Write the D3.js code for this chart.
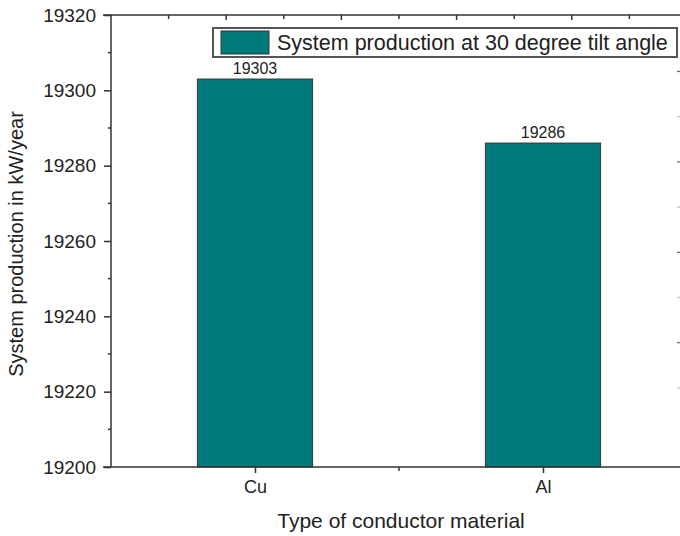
<!DOCTYPE html>
<html>
<head>
<meta charset="utf-8">
<script src="https://cdn.jsdelivr.net/npm/d3@7"></script>
<style>
  body { margin: 0; background: #fff; }
  text { font-family: "Liberation Sans", Arial, sans-serif; fill: #222; }
</style>
</head>
<body>
<svg id="chart" width="680" height="536"></svg>
<script>
const materials = ["Cu", "Al"];
const production = [19303, 19286];
const yTicks = [19200, 19220, 19240, 19260, 19280, 19300, 19320];
const legendLabel = "System production at 30 degree tilt angle";

const svg = d3.select("#chart");
const margin = {left: 111, top: 15, bottom: 467, right: 687};

const x = d3.scalePoint().domain(materials).range([margin.left, margin.right]).padding(0.5);
const barWidth = x.step() * 0.4;
const y = d3.scaleLinear().domain([19200, 19320]).range([margin.bottom, margin.top]);

const axisColor = "#333";

// bars
svg.append("g")
    .selectAll("rect")
    .data(materials)
    .join("rect")
    .attr("x", d => x(d) - barWidth / 2)
    .attr("y", (d, i) => y(production[i]))
    .attr("width", barWidth)
    .attr("height", (d, i) => y(19200) - y(production[i]))
    .style("fill", "#007b7b")
    .style("stroke", "#333")
    .style("stroke-width", 1);

// value labels
svg.append("g")
    .selectAll("text")
    .data(materials)
    .join("text")
    .attr("x", d => x(d))
    .attr("y", (d, i) => y(production[i]) - 5)
    .attr("text-anchor", "middle")
    .style("font-size", "16px")
    .text((d, i) => production[i]);

// left axis
const yAxis = d3.axisLeft(y).tickValues(yTicks).tickSize(7).tickPadding(8).tickFormat(d3.format("d"));
const gy = svg.append("g").attr("transform", `translate(${margin.left},0)`).call(yAxis);
gy.select(".domain").attr("d", `M0,${margin.bottom}V${margin.top}`);
gy.selectAll("line").style("stroke", axisColor).style("stroke-width", 1.5);
gy.select(".domain").style("stroke", axisColor).style("stroke-width", 1.5);
gy.selectAll("text").style("font-size", "19px").style("fill", "#222");

// left minor ticks
const yMinor = d3.range(19210, 19320, 20);
svg.append("g")
    .selectAll("line")
    .data(yMinor)
    .join("line")
    .attr("x1", margin.left - 3).attr("x2", margin.left)
    .attr("y1", d => y(d)).attr("y2", d => y(d))
    .style("stroke", axisColor).style("stroke-width", 1.5);

// bottom axis
const xAxis = d3.axisBottom(x).tickSize(6).tickPadding(7);
const gx = svg.append("g").attr("transform", `translate(0,${margin.bottom})`).call(xAxis);
gx.select(".domain").attr("d", `M${margin.left - 8},0H${margin.right}`).style("stroke", axisColor).style("stroke-width", 1.5);
gx.selectAll("line").style("stroke", axisColor).style("stroke-width", 1.5);
gx.selectAll("text").style("font-size", "18px").style("fill", "#222");

// bottom minor tick between categories
svg.append("line")
    .attr("x1", (x("Cu") + x("Al")) / 2).attr("x2", (x("Cu") + x("Al")) / 2)
    .attr("y1", margin.bottom).attr("y2", margin.bottom + 4)
    .style("stroke", axisColor).style("stroke-width", 1.5);

// top axis line with inward ticks
const xTop = d3.scaleLinear().domain([0, 10]).range([margin.left + x.step() * 0.2, margin.left + x.step() * 0.2 + x.step() * 2]);
svg.append("line")
    .attr("x1", margin.left - 8).attr("x2", margin.right)
    .attr("y1", margin.top).attr("y2", margin.top)
    .style("stroke", axisColor).style("stroke-width", 1.5);
svg.append("g")
    .selectAll("line")
    .data(d3.range(0, 10))
    .join("line")
    .attr("x1", d => xTop(d)).attr("x2", d => xTop(d))
    .attr("y1", margin.top).attr("y2", d => margin.top + (d % 2 === 1 ? 5 : 4))
    .style("stroke", axisColor).style("stroke-width", 1.5);

// faint right-edge tick remnants
const rightTicks = [19305, 19293, 19281, 19269, 19257, 19245, 19233, 19221];
svg.append("g")
    .selectAll("line")
    .data(rightTicks)
    .join("line")
    .attr("x1", 677).attr("x2", 680)
    .attr("y1", d => y(d)).attr("y2", d => y(d))
    .style("stroke", "#555").style("stroke-width", 1.2)
    .style("opacity", (d, i) => i % 2 === 0 ? 0.9 : 0.35);

// legend
const legend = svg.append("g");
legend.append("rect")
    .attr("x", 213).attr("y", 28).attr("width", 464).attr("height", 29)
    .style("fill", "#fff").style("stroke", "#555").style("stroke-width", 2);
legend.append("rect")
    .attr("x", 221).attr("y", 31).attr("width", 48).attr("height", 23)
    .style("fill", "#007b7b").style("stroke", "#333").style("stroke-width", 1);
legend.append("text")
    .attr("x", 277).attr("y", 50)
    .style("font-size", "21.5px")
    .text(legendLabel);

// axis titles
svg.append("text")
    .attr("x", 401).attr("y", 528)
    .attr("text-anchor", "middle")
    .style("font-size", "21px")
    .text("Type of conductor material");

svg.append("text")
    .attr("transform", "translate(23,244) rotate(-90)")
    .attr("text-anchor", "middle")
    .style("font-size", "20px")
    .text("System production in kW/year");
</script>
</body>
</html>
